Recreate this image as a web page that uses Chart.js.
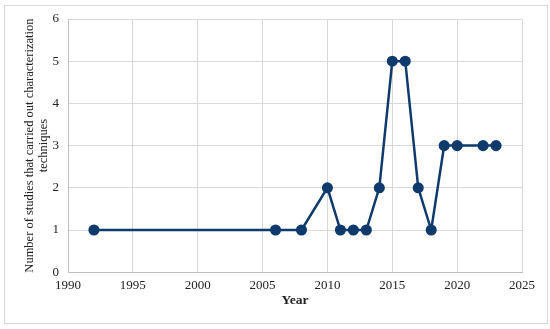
<!doctype html>
<html lang="en">
  <head>
    <meta charset="utf-8">
    <title>Studies per year</title>
    <style>
      * {
        margin: 0;
        padding: 0;
      }
      body {
        width: 550px;
        height: 329px;
        background: white;
        position: relative;
      }
      .chartBox {
        position: absolute;
        left: 4px;
        top: 5px;
        width: 542px;
        height: 317px;
        border: solid 1px #d9d9d9;
        background: white;
      }
    </style>
  </head>
  <body>
    <div class="chartBox">
      <canvas id="myChart" width="542" height="317"></canvas>
    </div>
    <script src="https://cdn.jsdelivr.net/npm/chart.js/dist/chart.umd.min.js"></script>
    <script>
      // data
      const years = [1992, 2006, 2008, 2010, 2011, 2012, 2013, 2014, 2015, 2016, 2017, 2018, 2019, 2020, 2022, 2023];
      const studies = [1, 1, 1, 2, 1, 1, 1, 2, 5, 5, 2, 1, 3, 3, 3, 3];
      const xTicks = [1990, 1995, 2000, 2005, 2010, 2015, 2020, 2025];
      const yTicks = [0, 1, 2, 3, 4, 5, 6];

      const lineColor = '#0e3a6c';
      const serif = "'Liberation Serif', 'Times New Roman', serif";

      const data = {
        datasets: [{
          data: years.map((y, i) => ({ x: y, y: studies[i] })),
          borderColor: lineColor,
          backgroundColor: lineColor,
          borderWidth: 2.5,
          pointRadius: 4.3,
          pointHoverRadius: 4.3,
          tension: 0
        }]
      };

      const config = {
        type: 'line',
        data,
        options: {
          responsive: false,
          animation: false,
          layout: { padding: { left: 14, right: 25, top: 13, bottom: 10 } },
          plugins: {
            legend: { display: false },
            tooltip: { enabled: false }
          },
          scales: {
            x: {
              type: 'linear',
              min: xTicks[0],
              max: xTicks[xTicks.length - 1],
              afterBuildTicks: (axis) => { axis.ticks = xTicks.map(v => ({ value: v })); },
              afterFit: (axis) => { axis.height -= 7; },
              grid: { color: '#d9d9d9', drawTicks: false },
              border: { color: '#bfbfbf' },
              ticks: {
                color: '#222',
                padding: 6,
                maxRotation: 0,
                font: { family: serif, size: 13 },
                callback: v => String(v)
              },
              title: {
                display: true,
                text: 'Year',
                color: '#222',
                padding: { top: 0 },
                font: { family: serif, size: 13.5, weight: 'bold' }
              }
            },
            y: {
              min: yTicks[0],
              max: yTicks[yTicks.length - 1],
              afterBuildTicks: (axis) => { axis.ticks = yTicks.map(v => ({ value: v })); },
              afterFit: (axis) => {
                axis.width = 49;
                axis.paddingTop = 0;
                axis.paddingBottom = 0;
              },
              grid: { color: '#d9d9d9', drawTicks: false },
              border: { color: '#bfbfbf' },
              ticks: {
                color: '#222',
                padding: 9,
                font: { family: serif, size: 13 }
              },
              title: {
                display: true,
                text: ['Number of studies that carried out characterization', 'techniques'],
                color: '#222',
                padding: { bottom: 2 },
                font: { family: serif, size: 12.5, lineHeight: 1.12 }
              }
            }
          }
        }
      };

      const myChart = new Chart(document.getElementById('myChart'), config);
    </script>
  </body>
</html>
